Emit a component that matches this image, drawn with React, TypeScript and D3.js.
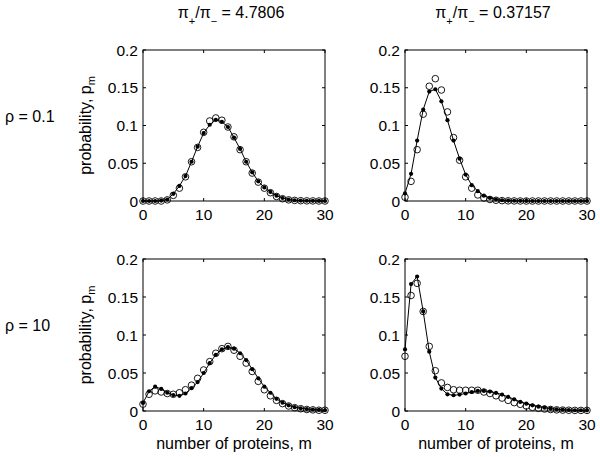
import React from "react";
import * as d3 from "d3";

const mValues: number[] = d3.range(0, 31);

const xTicks = [0, 10, 20, 30];
const yTicks = [0, 0.05, 0.1, 0.15, 0.2];
const yTickLabels = ["0", "0.05", "0.1", "0.15", "0.2"];
const xTickLabels = ["0", "10", "20", "30"];

const titles = ["4.7806", "0.37157"];
const rowLabels = ["ρ = 0.1", "ρ = 10"];

// top-left: rho=0.1, ratio 4.7806
const tlFilled = [0, 0, 0, 0.0005, 0.002, 0.0095, 0.02, 0.033, 0.052, 0.072, 0.09, 0.101, 0.1075, 0.105, 0.098, 0.084, 0.069, 0.052, 0.038, 0.026, 0.018, 0.012, 0.007, 0.004, 0.002, 0.001, 0.0005, 0.0003, 0.0002, 0.0001, 0];
const tlOpen = [0, 0, 0, 0, 0.0015, 0.0075, 0.017, 0.032, 0.052, 0.071, 0.091, 0.106, 0.11, 0.107, 0.098, 0.085, 0.068, 0.052, 0.037, 0.025, 0.017, 0.011, 0.006, 0.003, 0.0015, 0.0008, 0.0004, 0.0002, 0.0001, 0, 0];
// top-right: rho=0.1, ratio 0.37157
const trFilled = [0.01, 0.036, 0.08, 0.121, 0.145, 0.148, 0.132, 0.107, 0.08, 0.056, 0.035, 0.021, 0.013, 0.007, 0.004, 0.002, 0.001, 0.0005, 0.0003, 0.0002, 0.0001, 0, 0, 0, 0, 0, 0, 0, 0, 0, 0];
const trOpen = [0.005, 0.026, 0.068, 0.115, 0.152, 0.162, 0.147, 0.118, 0.084, 0.054, 0.032, 0.017, 0.008, 0.004, 0.002, 0.001, 0.0005, 0.0002, 0.0001, 0, 0, 0, 0, 0, 0, 0, 0, 0, 0, 0, 0];
// bottom-left: rho=10, ratio 4.7806
const blFilled = [0.0106, 0.026, 0.032, 0.029, 0.024, 0.021, 0.02, 0.023, 0.03, 0.038, 0.05, 0.063, 0.074, 0.081, 0.084, 0.082, 0.076, 0.067, 0.055, 0.043, 0.032, 0.024, 0.016, 0.011, 0.0075, 0.005, 0.0035, 0.0026, 0.002, 0.0015, 0.001];
const blOpen = [0.009, 0.022, 0.0265, 0.025, 0.023, 0.022, 0.024, 0.028, 0.034, 0.043, 0.054, 0.065, 0.076, 0.082, 0.085, 0.08, 0.072, 0.063, 0.052, 0.039, 0.028, 0.02, 0.014, 0.0097, 0.0066, 0.0044, 0.003, 0.002, 0.0015, 0.001, 0.001];
// bottom-right: rho=10, ratio 0.37157
const brFilled = [0.081, 0.167, 0.177, 0.131, 0.078, 0.044, 0.0295, 0.022, 0.0207, 0.0216, 0.023, 0.025, 0.0264, 0.0264, 0.0255, 0.0238, 0.0216, 0.0185, 0.0154, 0.0119, 0.0097, 0.0075, 0.0057, 0.0044, 0.0031, 0.0022, 0.0018, 0.0013, 0.001, 0.001, 0.0009];
const brOpen = [0.072, 0.152, 0.168, 0.131, 0.085, 0.053, 0.037, 0.031, 0.028, 0.0273, 0.0273, 0.0273, 0.0273, 0.025, 0.023, 0.02, 0.017, 0.014, 0.011, 0.0088, 0.0066, 0.0048, 0.0035, 0.0026, 0.002, 0.0015, 0.0012, 0.001, 0.0008, 0.0008, 0.0008];

const panelData = [
  [tlFilled, tlOpen],
  [trFilled, trOpen],
  [blFilled, blOpen],
  [brFilled, brOpen],
];

const FONT = "'Liberation Sans', Arial, Helvetica, sans-serif";
const FS = 15.5;
const LFS = 16;

const colX = [[143, 325], [405, 587]];
const rowY = [[201, 50], [411, 259]];

function Panel({ col, row, filled, open }: { col: number; row: number; filled: number[]; open: number[] }) {
  const x = d3.scaleLinear().domain([0, 30]).range(colX[col]);
  const y = d3.scaleLinear().domain([0, 0.2]).range(rowY[row]);
  const [x0, x1] = colX[col];
  const [yb, yt] = rowY[row];
  const line = d3.line<number>().x((_, i) => x(mValues[i])).y((d) => y(d));
  const tl = 3;
  return (
    <g>
      <rect x={x0} y={yt} width={x1 - x0} height={yb - yt} fill="none" stroke="#000" strokeWidth={1} />
      {xTicks.map((t, i) => (
        <g key={"xt" + i}>
          <line x1={x(t)} x2={x(t)} y1={yb} y2={yb - tl} stroke="#000" />
          <line x1={x(t)} x2={x(t)} y1={yt} y2={yt + tl} stroke="#000" />
          <text x={x(t)} y={yb + 19} textAnchor="middle" fontFamily={FONT} fontSize={FS}>{xTickLabels[i]}</text>
        </g>
      ))}
      {yTicks.map((t, i) => (
        <g key={"yt" + i}>
          <line x1={x0} x2={x0 + tl} y1={y(t)} y2={y(t)} stroke="#000" />
          <line x1={x1} x2={x1 - tl} y1={y(t)} y2={y(t)} stroke="#000" />
          <text x={x0 - 5} y={y(t) + 5.5} textAnchor="end" fontFamily={FONT} fontSize={FS}>{yTickLabels[i]}</text>
        </g>
      ))}
      <path d={line(filled) || ""} fill="none" stroke="#000" strokeWidth={1} />
      {open.map((v, i) => (
        <circle key={"o" + i} cx={x(mValues[i])} cy={y(v)} r={3.3} fill="none" stroke="#000" strokeWidth={0.9} />
      ))}
      {filled.map((v, i) => (
        <circle key={"f" + i} cx={x(mValues[i])} cy={y(v)} r={2.1} fill="#000" />
      ))}
    </g>
  );
}

export default function App() {
  return (
    <svg width={600} height={457} style={{ position: "absolute", left: 0, top: 0, background: "#fff" }}>
      <rect x={0} y={0} width={600} height={457} fill="#fff" />
      {[0, 1].map((row) =>
        [0, 1].map((col) => (
          <Panel key={row + "-" + col} col={col} row={row} filled={panelData[row * 2 + col][0]} open={panelData[row * 2 + col][1]} />
        ))
      )}
      {titles.map((t, col) => {
        const cx = (colX[col][0] + colX[col][1]) / 2 - 3;
        return (
          <text key={"title" + col} x={cx} y={18} textAnchor="middle" fontFamily={FONT} fontSize={LFS}>
            <tspan>π</tspan>
            <tspan dy={7} fontSize={11}>+</tspan>
            <tspan dy={-7}>/π</tspan>
            <tspan dy={7} fontSize={11}>−</tspan>
            <tspan dy={-7}>{" = " + t}</tspan>
          </text>
        );
      })}
      {rowLabels.map((t, row) => (
        <text key={"rl" + row} x={5} y={(rowY[row][0] + rowY[row][1]) / 2 - 4} fontFamily={FONT} fontSize={LFS}>{t}</text>
      ))}
      {[0, 1].map((row) => {
        const cy = (rowY[row][0] + rowY[row][1]) / 2;
        return (
          <text key={"yl" + row} transform={`translate(91,${cy}) rotate(-90)`} textAnchor="middle" fontFamily={FONT} fontSize={LFS}>
            <tspan>probability, p</tspan>
            <tspan dy={4} fontSize={11}>m</tspan>
          </text>
        );
      })}
      {[0, 1].map((col) => (
        <text key={"xl" + col} x={(colX[col][0] + colX[col][1]) / 2} y={rowY[1][0] + 38} textAnchor="middle" fontFamily={FONT} fontSize={LFS}>number of proteins, m</text>
      ))}
    </svg>
  );
}
